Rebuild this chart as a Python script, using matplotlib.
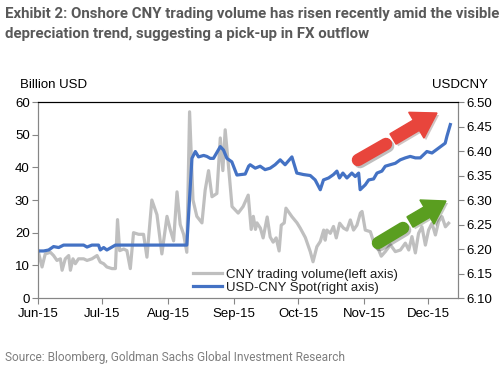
import numpy as np
import matplotlib
matplotlib.use("Agg")
import matplotlib.pyplot as plt
from matplotlib.patches import FancyArrow
import matplotlib.patheffects as pe

# days since 1 Jun 2015
vol_days = [0, 1.9, 3.4, 5.8, 7.3, 8.9, 10.5, 11.3, 12.8, 14.4, 15.2, 16.4, 17.5, 19, 21.4, 23,
            25.3, 27.7, 29.2, 30.8, 32.3, 34.7, 36.3, 37.3, 38.3, 40.2, 41.7, 43.3, 44.8, 47.2,
            49.5, 51.1, 53.4, 55.8, 58.1, 60.5, 62, 63.6, 65.2, 66.7, 68.3, 69.8, 71.1, 72.7,
            74.5, 76.9, 78.4, 80, 81.6, 83.9, 85.5, 86.7, 87.8, 89.4, 91, 93.9, 96.2, 98.6,
            100, 101, 102, 102.7, 104.3, 105.6, 107.5, 108.9, 110.3, 111.7, 113.1, 114.1,
            115.5, 116.3, 119.1, 121.5, 123, 125.4, 127.7, 129, 130.8, 132.4, 134, 134.7,
            135.5, 137.1, 138.6, 139.9, 141.5, 143.3, 144.9, 146.5, 148, 149.6, 151.2, 152,
            153.5, 155.9, 157.4, 159.8, 161, 162.9, 165.3, 167.6, 170, 172.3, 173.9, 175.4,
            177, 178.5, 180.1, 181.7, 183.2, 184.8, 186.4, 187.9, 189.5, 191.1, 192.6]
volume = [14.5, 9.5, 13.5, 14, 13, 11.5, 12, 8.5, 12, 13, 8.5, 12, 10.5, 12, 12, 11.5,
          12, 13, 11, 10.5, 9.5, 9, 9, 24, 14.5, 15, 14.5, 9, 20, 19.5,
          19.5, 12.5, 30, 25.5, 13.5, 25, 21, 17.5, 32.5, 22.5, 19.5, 14, 57, 30,
          25, 23, 33, 39, 31, 32, 49, 39, 51.5, 40, 28, 26, 28, 31.5,
          21, 25, 21, 23, 21.4, 18.4, 24.8, 18.7, 17.1, 18.4, 14.4, 22.3,
          23, 27.5, 24.9, 23, 21.4, 18.5, 14.2, 11.1, 15.7, 17.3, 20.8, 17.7,
          20.8, 19.8, 21.9, 18.4, 22.9, 21.4, 20.8, 23.9, 20.8, 22.3, 26, 26.5,
          20.8, 20.3, 17.2, 14.7, 12.8, 14.2, 16.3, 14.2, 14.7, 16.8, 14.7, 18.8,
          13.8, 19.8, 21.8, 16.2, 20.8, 22.9, 19.3, 23.4, 24.9, 21.8, 22.9]

spot_days = [0, 2.7, 5, 7.3, 9.7, 12, 21.4, 23, 25.3, 28.4, 29.2, 30.8, 32.3, 36.3, 69.8,
             72.2, 73.8, 75.3, 77.7, 79.2, 80.8, 82.3, 85.5, 87, 88.6, 90.9, 93.3, 97.2, 98.8,
             99.5, 101.9, 104.2, 106.5, 108.9, 111.2, 113.6, 115.9, 119.1, 121.4, 124.5,
             127.7, 130, 132.4, 133.9, 136.3, 138.6, 140.2, 141.4, 143, 144.9, 147.2, 148.8,
             150.4, 151.1, 153.5, 155.1, 157.4, 159, 161.3, 162.9, 165.2, 167.6, 169.9,
             172.3, 174.6, 177, 179.3, 182.4, 184.8, 187.9, 191, 191.8, 193.4]
spot = [6.196, 6.196, 6.198, 6.205, 6.203, 6.208, 6.208, 6.204, 6.208, 6.208, 6.198, 6.203,
        6.198, 6.208, 6.208, 6.385, 6.399, 6.388, 6.391, 6.389, 6.385, 6.385, 6.409, 6.402,
        6.385, 6.378, 6.351, 6.353, 6.369, 6.372, 6.365, 6.369, 6.362, 6.365, 6.372, 6.382,
        6.372, 6.388, 6.355, 6.352, 6.350, 6.341, 6.321, 6.341, 6.345, 6.352, 6.359, 6.345,
        6.355, 6.345, 6.355, 6.348, 6.355, 6.321, 6.331, 6.341, 6.343, 6.355, 6.359, 6.369,
        6.372, 6.375, 6.382, 6.386, 6.389, 6.386, 6.386, 6.399, 6.396, 6.406, 6.416, 6.430,
        6.454]

month_days = [0, 30, 61, 92, 122, 153, 183]
month_labels = ["Jun-15", "Jul-15", "Aug-15", "Sep-15", "Oct-15", "Nov-15", "Dec-15"]

plt.rcParams['font.family'] = ['Liberation Sans', 'DejaVu Sans']
cond = ['Roboto', 'DejaVu Sans']

fig = plt.figure(figsize=(5, 3.67), dpi=100)
ax = fig.add_axes([0.076, 0.188, 0.84, 0.534])
ax2 = ax.twinx()

l1, = ax.plot(vol_days, volume, color='#BFBFBF', lw=2.3, label='CNY trading volume(left axis)')
l2, = ax2.plot(spot_days, spot, color='#4472C4', lw=2.3, label='USD-CNY Spot(right axis)')
ax2.set_zorder(ax.get_zorder() + 1)

ax.set_xlim(0, 197)
ax.set_ylim(0, 60)
ax.set_yticks(range(0, 61, 10))
ax2.set_ylim(6.10, 6.50)
ax2.set_yticks(np.arange(6.10, 6.501, 0.05))
ax2.set_yticklabels([f"{v:.2f}" for v in np.arange(6.10, 6.501, 0.05)])
ax.set_xticks(month_days)
ax.set_xticklabels(month_labels)

for a in (ax, ax2):
    for s in ('left', 'right', 'bottom'):
        a.spines[s].set_color('#868686')
    a.spines['top'].set_color('black')
    a.tick_params(colors='#868686', labelcolor='black', labelsize=9.5, length=4, width=0.8, pad=2)
ax.tick_params(axis='x', pad=3)

fig.text(0.04, 0.752, "Billion USD", fontsize=9.5, ha='left', va='bottom')
fig.text(0.976, 0.752, "USDCNY", fontsize=9.5, ha='right', va='bottom')

leg = ax.legend(handles=[l1, l2], loc='lower left', bbox_to_anchor=(0.35, -0.02),
                frameon=False, fontsize=9.5, handlelength=2.2, handletextpad=0.3,
                labelspacing=0.05, borderaxespad=0.2)
for t in leg.get_texts():
    t.set_color('#1F1F1F')

fig.text(0.01, 0.963, "Exhibit 2: Onshore CNY trading volume has risen recently amid the visible",
         family=cond, fontsize=10.8, weight='bold', color='#595959', va='center')
fig.text(0.01, 0.908, "depreciation trend, suggesting a pick-up in FX outflow",
         family=cond, fontsize=10.8, weight='bold', color='#595959', va='center')
fig.text(0.01, 0.027, "Source: Bloomberg, Goldman Sachs Global Investment Research",
         family=cond, fontsize=8.6, color='#7F7F7F', va='center')

shadow = [pe.SimplePatchShadow(offset=(1.5, -1.5), alpha=0.25), pe.Normal()]

def px(x, y):
    return x / 500, 1 - y / 367

def dashed_arrow(p0, p1, q0, q1, color, hw, hl):
    # rounded dash then arrow, positions in figure pixels
    (x0, y0), (x1, y1) = px(*p0), px(*p1)
    fig.add_artist(plt.Line2D([x0, x1], [y0, y1], transform=fig.transFigure, color=color,
                              lw=9, solid_capstyle='round', path_effects=[
                                  pe.SimpleLineShadow(offset=(1.5, -1.5), alpha=0.25), pe.Normal()]))
    dx, dy = (q1[0] - q0[0]), -(q1[1] - q0[1])
    arr = FancyArrow(q0[0], 367 - q0[1], dx, dy, width=12, head_width=hw, head_length=hl,
                     length_includes_head=True, color=color, transform=None,
                     path_effects=shadow)
    fig.add_artist(arr)

dashed_arrow((358, 160), (386, 144), (393, 139), (437, 113), '#E8453C', 30, 24)
dashed_arrow((378, 243), (403, 228), (410, 222), (446, 201), '#5A9E20', 28, 22)

fig.savefig("out.png", dpi=100)
